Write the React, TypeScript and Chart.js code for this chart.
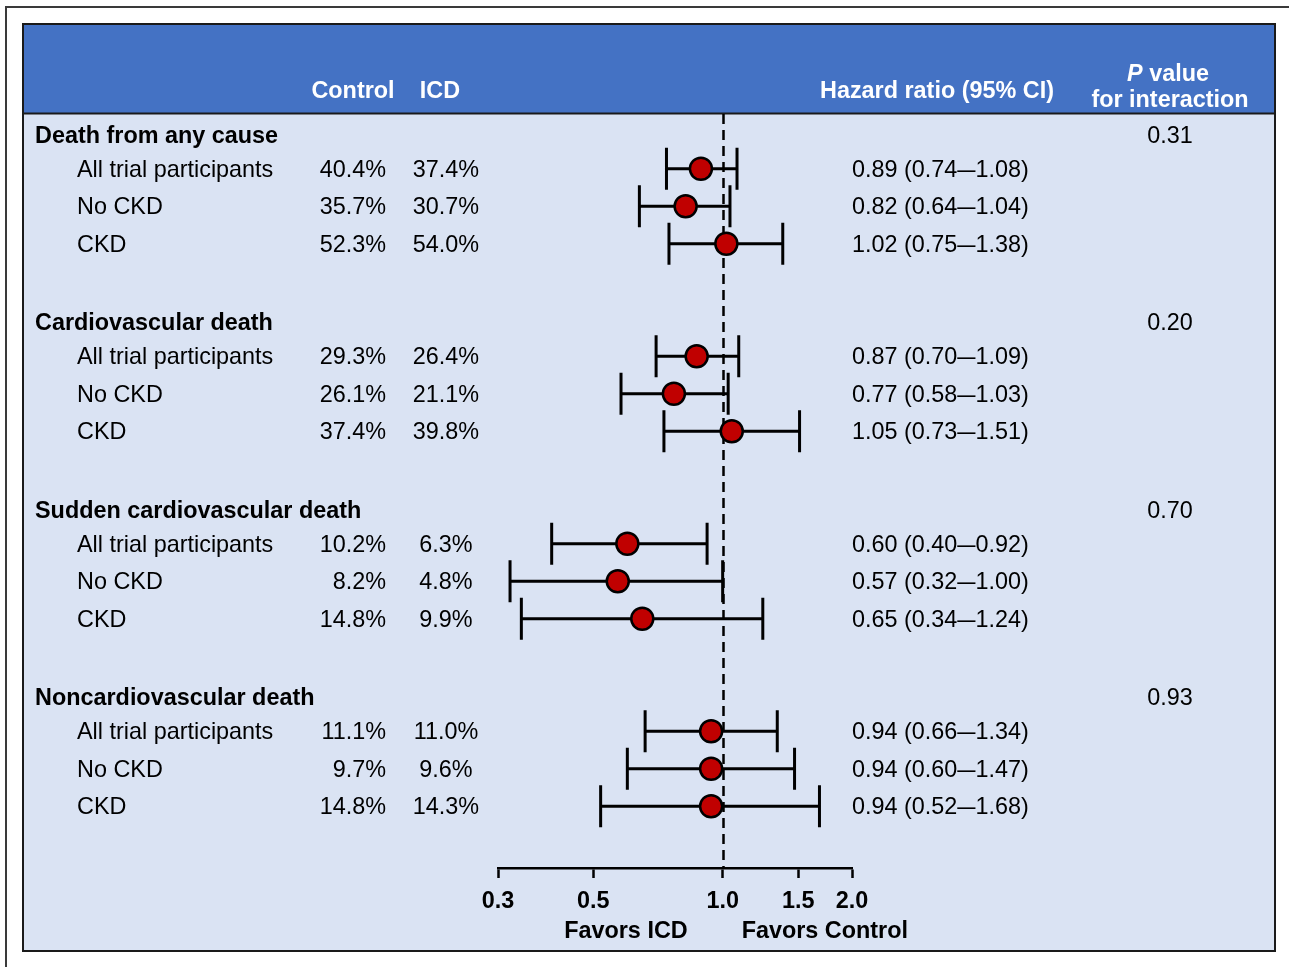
import React, { useEffect, useRef } from "react";
import { Chart, registerables } from "chart.js";
Chart.register(...registerables);

const groups = ["Death from any cause", "Cardiovascular death", "Sudden cardiovascular death", "Noncardiovascular death"];
const pValues = ["0.31", "0.20", "0.70", "0.93"];
const subgroups = ["All trial participants", "No CKD", "CKD"];
const controlPct = [40.4, 35.7, 52.3, 29.3, 26.1, 37.4, 10.2, 8.2, 14.8, 11.1, 9.7, 14.8];
const icdPct = [37.4, 30.7, 54.0, 26.4, 21.1, 39.8, 6.3, 4.8, 9.9, 11.0, 9.6, 14.3];
const hr = [0.89, 0.82, 1.02, 0.87, 0.77, 1.05, 0.6, 0.57, 0.65, 0.94, 0.94, 0.94];
const ciLow = [0.74, 0.64, 0.75, 0.7, 0.58, 0.73, 0.4, 0.32, 0.34, 0.66, 0.6, 0.52];
const ciHigh = [1.08, 1.04, 1.38, 1.09, 1.03, 1.51, 0.92, 1.0, 1.24, 1.34, 1.47, 1.68];
const xTicks = [0.3, 0.5, 1.0, 1.5, 2.0];

const FONT = '"Liberation Sans", Arial, Helvetica, sans-serif';
const FS = 23.4;
const rowY = (i: number) => Math.floor(i / 3) * 5 + 0.9 + (i % 3);
const headerY = (g: number) => g * 5;

const W = 1289;
const H = 967;

const forestPlugin = {
  id: "forest",
  beforeDraw(chart: any) {
    const ctx = chart.ctx as CanvasRenderingContext2D;
    ctx.save();
    ctx.fillStyle = "#ffffff";
    ctx.fillRect(0, 0, W, H);
    // outer frame
    ctx.strokeStyle = "#3a3a3a";
    ctx.lineWidth = 2;
    ctx.beginPath();
    ctx.moveTo(6, H);
    ctx.lineTo(6, 7);
    ctx.lineTo(W, 7);
    ctx.stroke();
    // panel
    ctx.fillStyle = "#DAE3F3";
    ctx.fillRect(23, 24, 1252, 927);
    ctx.fillStyle = "#4472C4";
    ctx.fillRect(23, 24, 1252, 89);
    ctx.strokeStyle = "#1a1a1a";
    ctx.lineWidth = 2;
    ctx.beginPath();
    ctx.moveTo(23, 113.5);
    ctx.lineTo(1275, 113.5);
    ctx.stroke();
    ctx.strokeRect(23, 24, 1252, 927);
    // header text
    ctx.fillStyle = "#ffffff";
    ctx.font = `bold ${FS}px ${FONT}`;
    ctx.textBaseline = "alphabetic";
    ctx.textAlign = "center";
    ctx.fillText("Control", 353, 98);
    ctx.fillText("ICD", 440, 98);
    ctx.fillText("Hazard ratio (95% CI)", 937, 98);
    ctx.fillText("for interaction", 1170, 107);
    // "P value"
    ctx.textAlign = "left";
    ctx.font = `italic bold ${FS}px ${FONT}`;
    const pw = ctx.measureText("P").width;
    ctx.font = `bold ${FS}px ${FONT}`;
    const vw = ctx.measureText(" value").width;
    const startX = 1168 - (pw + vw) / 2;
    ctx.font = `italic bold ${FS}px ${FONT}`;
    ctx.fillText("P", startX, 81);
    ctx.font = `bold ${FS}px ${FONT}`;
    ctx.fillText(" value", startX + pw, 81);
    ctx.restore();
  },
  beforeDatasetsDraw(chart: any) {
    const ctx = chart.ctx as CanvasRenderingContext2D;
    const xs = chart.scales.x;
    const ys = chart.scales.y;
    ctx.save();
    // reference line at HR = 1
    const x1 = Math.round(xs.getPixelForValue(1)) + 0.5;
    ctx.strokeStyle = "#000";
    ctx.lineWidth = 2.5;
    ctx.setLineDash([10, 6]);
    ctx.beginPath();
    ctx.moveTo(x1, 114);
    ctx.lineTo(x1, chart.chartArea.bottom);
    ctx.stroke();
    ctx.setLineDash([]);
    // confidence intervals
    ctx.lineWidth = 3;
    for (let i = 0; i < hr.length; i++) {
      const py = ys.getPixelForValue(rowY(i));
      const xl = xs.getPixelForValue(ciLow[i]);
      const xh = xs.getPixelForValue(ciHigh[i]);
      ctx.beginPath();
      ctx.moveTo(xl, py);
      ctx.lineTo(xh, py);
      ctx.moveTo(xl, py - 21);
      ctx.lineTo(xl, py + 21);
      ctx.moveTo(xh, py - 21);
      ctx.lineTo(xh, py + 21);
      ctx.stroke();
    }
    ctx.restore();
  },
  afterDraw(chart: any) {
    const ctx = chart.ctx as CanvasRenderingContext2D;
    const xs = chart.scales.x;
    const ys = chart.scales.y;
    ctx.save();
    ctx.fillStyle = "#000";
    ctx.textBaseline = "alphabetic";
    groups.forEach((g, gi) => {
      const py = ys.getPixelForValue(headerY(gi)) + 8;
      ctx.font = `bold ${FS}px ${FONT}`;
      ctx.textAlign = "left";
      ctx.fillText(g, 35, py);
      ctx.font = `${FS}px ${FONT}`;
      ctx.textAlign = "center";
      ctx.fillText(pValues[gi], 1170, py);
    });
    ctx.font = `${FS}px ${FONT}`;
    for (let i = 0; i < hr.length; i++) {
      const py = ys.getPixelForValue(rowY(i)) + 8;
      ctx.textAlign = "left";
      ctx.fillText(subgroups[i % 3], 77, py);
      ctx.textAlign = "right";
      ctx.fillText(controlPct[i].toFixed(1) + "%", 386, py);
      ctx.textAlign = "center";
      ctx.fillText(icdPct[i].toFixed(1) + "%", 446, py);
      ctx.textAlign = "left";
      // hazard ratio text, with a widened en dash
      const a = `${hr[i].toFixed(2)} (${ciLow[i].toFixed(2)}`;
      const b = `${ciHigh[i].toFixed(2)})`;
      let x = 852;
      ctx.fillText(a, x, py);
      x += ctx.measureText(a).width;
      const dw = ctx.measureText("\u2013").width;
      ctx.save();
      ctx.translate(x, py);
      ctx.scale(1.4, 1);
      ctx.fillText("\u2013", 0, 0);
      ctx.restore();
      x += dw * 1.4;
      ctx.fillText(b, x, py);
    }
    // favors labels
    const x1 = xs.getPixelForValue(1);
    ctx.font = `bold ${FS}px ${FONT}`;
    ctx.textAlign = "right";
    ctx.fillText("Favors ICD", x1 - 35, 938);
    ctx.textAlign = "left";
    ctx.fillText("Favors Control", x1 + 19, 938);
    ctx.restore();
  },
};

export default function App() {
  const ref = useRef<HTMLCanvasElement | null>(null);
  useEffect(() => {
    if (!ref.current) return;
    const chart = new Chart(ref.current, {
      type: "scatter",
      data: {
        datasets: [
          {
            label: "Hazard ratio",
            data: hr.map((v, i) => ({ x: v, y: rowY(i) })),
            pointRadius: 11,
            pointHoverRadius: 11,
            backgroundColor: "#C00000",
            borderColor: "#000000",
            borderWidth: 2.5,
            clip: false as any,
          },
        ],
      },
      options: {
        responsive: false,
        animation: false,
        devicePixelRatio: 1,
        layout: { autoPadding: false, padding: { left: 498, right: W - 852, top: 0, bottom: 0 } },
        plugins: { legend: { display: false }, tooltip: { enabled: false } },
        events: [],
        scales: {
          x: {
            type: "logarithmic",
            position: "bottom",
            min: 0.3,
            max: 2.0,
            afterBuildTicks: (s: any) => {
              s.ticks = xTicks.map((v) => ({ value: v }));
            },
            afterFit: (s: any) => {
              s.height = 99;
            },
            ticks: {
              autoSkip: false,
              maxRotation: 0,
              padding: 10,
              color: "#000",
              font: { family: FONT, size: FS, weight: "bold" },
              callback: (v: any) => Number(v).toFixed(1),
            },
            grid: {
              drawOnChartArea: false,
              drawTicks: true,
              tickLength: 10,
              tickWidth: 2.5,
              tickColor: "#000",
            },
            border: { display: true, color: "#000", width: 2.5 },
          },
          y: {
            type: "linear",
            display: false,
            reverse: true,
            min: -3.6,
            max: 19.547,
          },
        },
      },
      plugins: [forestPlugin],
    } as any);
    return () => chart.destroy();
  }, []);
  return (
    <div style={{ position: "absolute", left: 0, top: 0, width: W, height: H }}>
      <canvas ref={ref} width={W} height={H} style={{ display: "block" }} />
    </div>
  );
}
